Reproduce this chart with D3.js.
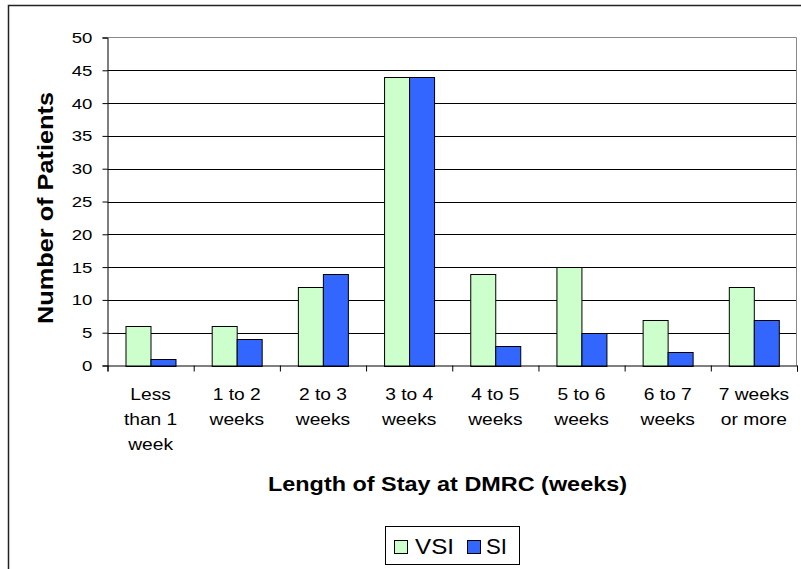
<!DOCTYPE html>
<html><head><meta charset="utf-8">
<script src="https://cdn.jsdelivr.net/npm/d3@7"></script>
<style>body{margin:0;background:#fff}svg{display:block;font-family:"Liberation Sans",Arial,sans-serif}</style>
</head><body><svg width="801" height="569"></svg>
<script>
const categories = ["Less\nthan 1\nweek","1 to 2\nweeks","2 to 3\nweeks","3 to 4\nweeks","4 to 5\nweeks","5 to 6\nweeks","6 to 7\nweeks","7 weeks\nor more"];
const seriesNames = ["VSI","SI"];
const vsiValues = [6,6,12,44,14,15,7,12];
const siValues = [1,4,14,44,3,5,2,7];
const yTicks = [0,5,10,15,20,25,30,35,40,45,50];
const seriesColors = ["#CCFFCC","#3366FF"];
const xTitle = "Length of Stay at DMRC (weeks)";
const yTitle = "Number of Patients";

const svg = d3.select("svg");
svg.append("rect").attr("x",8.5).attr("y",5.5).attr("width",800).attr("height",600)
  .attr("fill","#fff").attr("stroke","#222").attr("stroke-width",1.5);

const L=107.5, R=797, T=37.5, B=365.5;
const x = d3.scaleBand().domain(categories).range([L,R]).padding(0);
const xb = d3.scaleLinear().domain([0,categories.length]).range([L,R]);
const pad = x.bandwidth()*0.21;
const x1 = d3.scaleBand().domain(seriesNames).range([pad, x.bandwidth()-pad]).padding(0);
const y = d3.scaleLinear().domain([0,50]).range([B,T]);
const SX = 1.2;

// gridlines
svg.append("g").selectAll("line").data(yTicks.filter(v=>v>0 && v<50)).join("line")
  .attr("x1",L).attr("x2",R).attr("y1",d=>Math.round(y(d))+0.5).attr("y2",d=>Math.round(y(d))+0.5)
  .attr("stroke","#000").attr("stroke-width",1);
// plot border top/right
svg.append("path").attr("d",`M${L},${y(50)}H${R-0.5}V${B}`).attr("fill","none").attr("stroke","#888").attr("stroke-width",1);

// bars
const data = categories.map((c,i)=>({c, vals:[vsiValues[i], siValues[i]]}));
const groups = svg.append("g").selectAll("g").data(data).join("g")
  .attr("transform",d=>`translate(${x(d.c)},0)`);
groups.selectAll("rect").data(d=>d.vals.map((v,j)=>({s:seriesNames[j], v, j}))).join("rect")
  .attr("x",d=>Math.round(x1(d.s))+0.5).attr("width",x1.bandwidth())
  .attr("y",d=>Math.round(y(d.v))+0.5).attr("height",d=>Math.round(y(0))-Math.round(y(d.v)))
  .attr("fill",d=>seriesColors[d.j]).attr("stroke","#000").attr("stroke-width",1);

// y axis
const ya = svg.append("g").attr("transform",`translate(${L},0)`)
  .call(d3.axisLeft(y).tickValues(yTicks).tickSize(5).tickPadding(10));
ya.select(".domain").attr("stroke","#000");
ya.selectAll("line").attr("stroke","#000");
ya.selectAll("text").attr("font-size","15.5px").attr("fill","#000")
  .attr("font-family","Liberation Sans, Arial, sans-serif")
  .attr("x",-15.2/SX).attr("transform",`scale(${SX},1)`);

// x axis
const xa = svg.append("g").attr("transform",`translate(0,${B})`)
  .call(d3.axisBottom(xb).tickValues(d3.range(categories.length+1)).tickFormat("").tickSize(6));
xa.select(".domain").attr("stroke","#000");
xa.selectAll("line").attr("stroke","#000");
const xl = svg.append("g").attr("transform",`translate(0,${B})`)
  .call(d3.axisBottom(x).tickSize(0).tickFormat(""));
xl.select(".domain").remove();
xl.selectAll(".tick").each(function(d){
  const t = d3.select(this).append("text").attr("fill","#000").attr("font-size","16px")
    .attr("text-anchor","middle").attr("transform",`scale(${SX},1)`);
  d.split("\n").forEach((line,k)=>{
    t.append("tspan").attr("x",0).attr("y",34.5+k*25).text(line);
  });
});

// axis titles
svg.append("text").attr("x",447.5).attr("y",491).attr("text-anchor","middle")
  .attr("font-weight","bold").attr("font-size","21px")
  .attr("textLength",359).attr("lengthAdjust","spacingAndGlyphs").text(xTitle);
svg.append("text").attr("transform","translate(52.7,208) rotate(-90)").attr("text-anchor","middle")
  .attr("font-weight","bold").attr("font-size","22px")
  .attr("textLength",232).attr("lengthAdjust","spacingAndGlyphs").text(yTitle);

// legend
const lg = svg.append("g");
lg.append("rect").attr("x",385.5).attr("y",526.5).attr("width",134).attr("height",38)
  .attr("fill","#fff").attr("stroke","#000");
const legX = [394, 467], legTX = [415, 486], legTW = [39, 21];
seriesNames.forEach((s,i)=>{
  lg.append("rect").attr("x",legX[i]+0.5).attr("y",540.5).attr("width",13).attr("height",13)
    .attr("fill",seriesColors[i]).attr("stroke","#000");
  lg.append("text").attr("x",legTX[i]).attr("y",554).attr("font-size","22px")
    .attr("textLength",legTW[i]).attr("lengthAdjust","spacingAndGlyphs").text(s);
});
</script></body></html>
